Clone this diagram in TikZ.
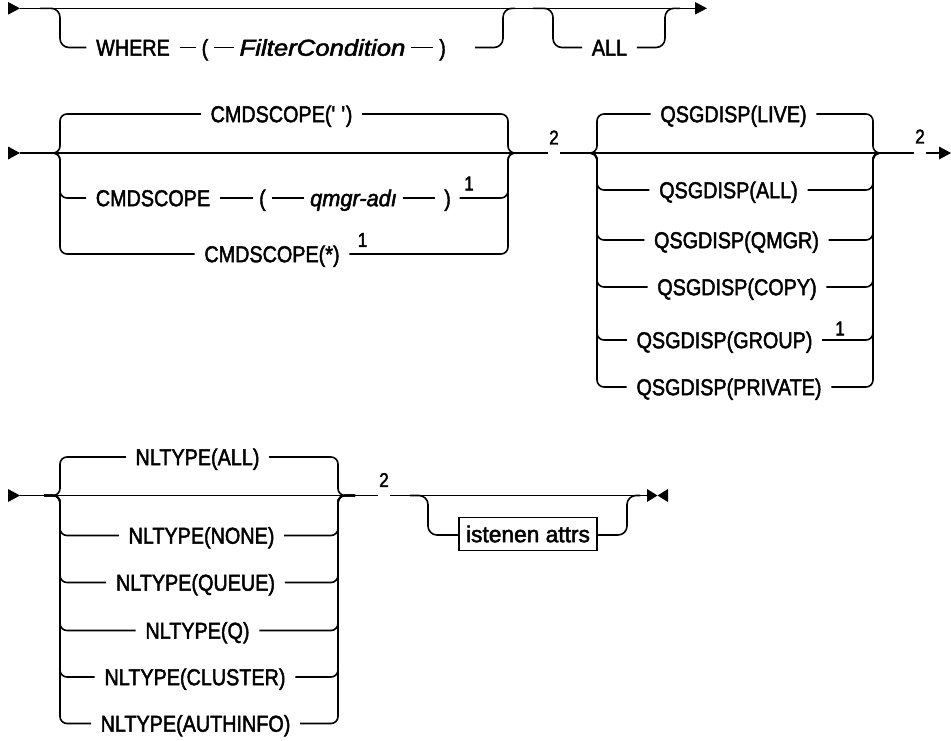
\documentclass[tikz,border=0pt]{standalone}
\usepackage{fontspec}
\setmainfont{Liberation Sans}[FakeStretch=0.86,FakeBold=2]
\usepackage{graphicx}
\begin{document}
\begin{tikzpicture}[x=1pt,y=-1pt,line width=1.6pt,
  font=\fontsize{23pt}{26pt}\selectfont,
  t/.style={inner xsep=9pt,inner ysep=0pt,text height=16.4pt,text depth=0pt},
  p/.style={t,inner xsep=5pt},
  fn/.style={font=\fontsize{20pt}{22pt}\selectfont,inner sep=0.6pt},
  rc/.style={rounded corners=7pt},
  rcb/.style={rounded corners=9pt},
  boxed/.style={draw,t,inner xsep=7pt,minimum height=33pt}]
\useasboundingbox (0,0) rectangle (951,740);
% ---------- Row 1 ----------
\coordinate (m1) at (0,8.3);
\fill (8,2) -- (20,8.3) -- (8,14.6) -- cycle;
\draw (20,8.3) -- (695,8.3);
\fill (695,2) -- (707,8.3) -- (695,14.6) -- cycle;
\node[t] (where) at (133,47.5) {WHERE};
\node[p] (lp1) at (205,47.5) {(};
\node[p] (filt) at (322.5,47.5) {\scalebox{1.3}[1]{\itshape FilterCondition}};
\node[p] (rp1) at (442.5,47.5) {)};
\coordinate (r1gap) at (475,47.5);
\draw[rcb] (40,8.3) -| (60,47.5) -- (where.west);
\draw (where.east) -- (lp1.west);
\draw (lp1.east) -- (filt.west);
\draw (filt.east) -- (rp1.west);
\draw[rcb] (r1gap) -| (503,8.3) -- (515,8.3);
\node[t] (all1) at (609.5,47.5) {ALL};
\draw[rcb] (533,8.3) -| (553,47.5) -- (all1.west);
\draw[rcb] (all1.east) -| (665,8.3) -- (680,8.3);
% ---------- Row 2 / 3 ----------
\coordinate (m2) at (0,153);
\fill (8,146.5) -- (20,153) -- (8,159.5) -- cycle;
\node[fn] (fa) at (554,137.5) {2};
\node[fn] (fb) at (920,136.5) {2};
\draw (20,153) -- (fa.west |- m2);
\draw (fa.east |- m2) -- (fb.west |- m2);
\draw (fb.east |- m2) -- (939,153);
\fill (939,146.5) -- (951,153) -- (939,159.5) -- cycle;
% CMDSCOPE
\node[t] (cs1) at (281.5,114) {CMDSCOPE(\textquotesingle\ \textquotesingle)};
\node[t] (cs2) at (153,198) {CMDSCOPE};
\node[p] (lp2) at (262.5,198) {(};
\node[p] (qm) at (353.5,198) {\scalebox{1.1}[1]{\itshape qmgr-adı}};
\node[p,inner xsep=8pt] (rp2) at (447.5,198) {)};
\node[fn] (f1a) at (469,183.5) {1};
\node[t] (cs3) at (272,254) {CMDSCOPE(*)};
\node[fn] (f1b) at (362.5,240) {1};
\draw[rc] (44,153) -| (60,114) -- (cs1.west);
\draw[rc] (cs1.east) -| (508,153) -- (524,153);
\draw[rc] (44,153) -| (60,198) -- (cs2.west);
\draw (cs2.east) -- (lp2.west);
\draw (lp2.east) -- (qm.west);
\draw (qm.east) -- (rp2.west);
\draw[rc] (rp2.east) -| (508,153) -- (524,153);
\draw[rc] (44,153) -| (60,254) -- (cs3.west);
\draw[rc] (cs3.east) -| (508,153) -- (524,153);
% QSGDISP
\node[t] (ql) at (733.5,114) {QSGDISP(LIVE)};
\node[t] (qa) at (728.5,190) {QSGDISP(ALL)};
\node[t] (qq) at (736.5,240) {QSGDISP(QMGR)};
\node[t] (qc) at (737,287) {QSGDISP(COPY)};
\node[t] (qg) at (724.5,340) {QSGDISP(GROUP)};
\node[fn] (f1c) at (840,328.5) {1};
\node[t] (qp) at (729,387) {QSGDISP(PRIVATE)};
\foreach \n/\yy in {ql/114,qa/190,qq/240,qc/287,qg/340,qp/387}{
  \draw[rc] (578,153) -| (597,\yy) -- (\n.west);
  \draw[rc] (\n.east) -| (873,153) -- (890,153);
}
% ---------- Row 4 ----------
\coordinate (m4) at (0,495.5);
\fill (8,489) -- (20,495.5) -- (8,502) -- cycle;
\node[fn] (fc) at (384,480) {2};
\draw (20,495.5) -- (fc.west |- m4);
\draw (fc.east |- m4) -- (647,495.5);
\node[t] (na) at (197.5,457) {NLTYPE(ALL)};
\node[t] (nn) at (201.5,535.5) {NLTYPE(NONE)};
\node[t] (nqu) at (195.5,582.5) {NLTYPE(QUEUE)};
\node[t] (nq) at (197.5,630.5) {NLTYPE(Q)};
\node[t] (ncl) at (195,677) {NLTYPE(CLUSTER)};
\node[t] (nau) at (195.5,723.5) {NLTYPE(AUTHINFO)};
\foreach \n/\yy in {na/457,nn/535.5,nqu/582.5,nq/630.5,ncl/677,nau/723.5}{
  \draw[rc] (44,495.5) -| (60,\yy) -- (\n.west);
  \draw[rc] (\n.east) -| (338,495.5) -- (355,495.5);
}
\node[boxed] (ist) at (528,534) {\scalebox{1.15}[1]{istenen attrs}};
\draw[rcb] (410,495.5) -| (428,535) -- (ist.west |- 0,535);
\draw[rcb] (ist.east |- 0,535) -| (627,495.5) -- (640,495.5);
\fill (647,489) -- (657.5,495.5) -- (647,502) -- cycle;
\fill (668,489) -- (657.5,495.5) -- (668,502) -- cycle;
\end{tikzpicture}
\end{document}
